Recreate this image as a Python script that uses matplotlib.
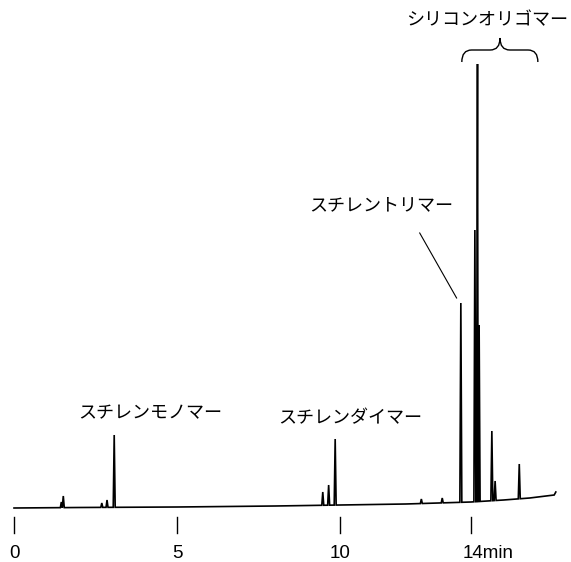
"""Chromatogram of styrene oligomers and silicone oligomers."""

import matplotlib

matplotlib.use("Agg")
from matplotlib import pyplot as plt
from matplotlib.path import Path
from matplotlib.patches import PathPatch

plt.rcParams["font.family"] = ["Liberation Sans", "Noto Sans CJK JP", "DejaVu Sans"]

# baseline drift (time in min, detector response)
base_times = [0.0, 2.0, 5.0, 8.0, 10.0, 12.0, 13.0, 14.0, 15.0, 15.8, 16.3, 16.55, 16.6]
base_levels = [12, 12.5, 13, 14, 15, 16, 17, 18, 20, 22, 24, 25, 28]

# peaks: retention time (min) and apex response
peak_times = [1.45, 1.51, 2.69, 2.85, 3.07, 9.46, 9.64, 9.84, 12.48, 13.12,
              13.69, 14.12, 14.20, 14.25, 14.64, 14.74, 15.48]
peak_heights = [18, 24, 17, 20, 85, 28, 35, 81, 21, 22,
                217, 290, 456, 195, 89, 39, 56]

tick_values = [0, 5, 10, 14]
tick_labels = ["0", "5", "10", "14min"]


def baseline_at(t):
    for i in range(len(base_times) - 1):
        if base_times[i] <= t <= base_times[i + 1]:
            f = (t - base_times[i]) / (base_times[i + 1] - base_times[i])
            return base_levels[i] + f * (base_levels[i + 1] - base_levels[i])
    return base_levels[-1]


# assemble the trace: baseline vertices plus a narrow spike for each peak
points = [(t, baseline_at(t)) for t in base_times]
for t, h in zip(peak_times, peak_heights):
    points += [(t - 0.03, baseline_at(t - 0.03)), (t, h), (t + 0.03, baseline_at(t + 0.03))]
points.sort()
xs = [p[0] for p in points]
ys = [p[1] for p in points]

fig = plt.figure(figsize=(5.71, 5.62), dpi=100)
ax = fig.add_axes([0, 0, 1, 1])
ax.set_xlim(-0.429, 17.065)
ax.set_ylim(-42, 520)
ax.axis("off")

ax.plot(xs, ys, color="black", linewidth=1.2, solid_joinstyle="miter")

for v, lab in zip(tick_values, tick_labels):
    ax.plot([v, v], [3.5, -13], color="black", linewidth=1.0)
    ha = "left" if lab.endswith("min") else "center"
    x = v - 0.25 if ha == "left" else v
    ax.text(x, -33, lab, ha=ha, va="center", fontsize=13.5)

jp = ["Noto Sans CJK JP", "DejaVu Sans"]
ax.text(4.17, 107, "スチレンモノマー", ha="center", va="center", fontsize=13, family=jp)
ax.text(10.29, 102, "スチレンダイマー", ha="center", va="center", fontsize=13, family=jp)
ax.text(11.26, 315, "スチレントリマー", ha="center", va="center", fontsize=13, family=jp)
ax.text(14.49, 500, "シリコンオリゴマー", ha="center", va="center", fontsize=13, family=jp)

# leader line to the trimer peak
ax.plot([12.43, 13.56], [287, 222], color="black", linewidth=0.8)

# curly brace over the silicone cluster
x0, xm, x1 = 13.72, 14.89, 16.05
yb, yf, yt = 458, 470, 482
verts = [(x0, yb), (x0, yf), (x0 + 0.3, yf),
         (xm - 0.3, yf), (xm, yf), (xm, yt),
         (xm, yf), (xm + 0.3, yf),
         (x1 - 0.3, yf), (x1, yf), (x1, yb)]
codes = [Path.MOVETO, Path.CURVE3, Path.CURVE3,
         Path.LINETO, Path.CURVE3, Path.CURVE3,
         Path.CURVE3, Path.CURVE3,
         Path.LINETO, Path.CURVE3, Path.CURVE3]
ax.add_patch(PathPatch(Path(verts, codes), fill=False, color="black", linewidth=1.0))

fig.savefig("out.png", dpi=100)
